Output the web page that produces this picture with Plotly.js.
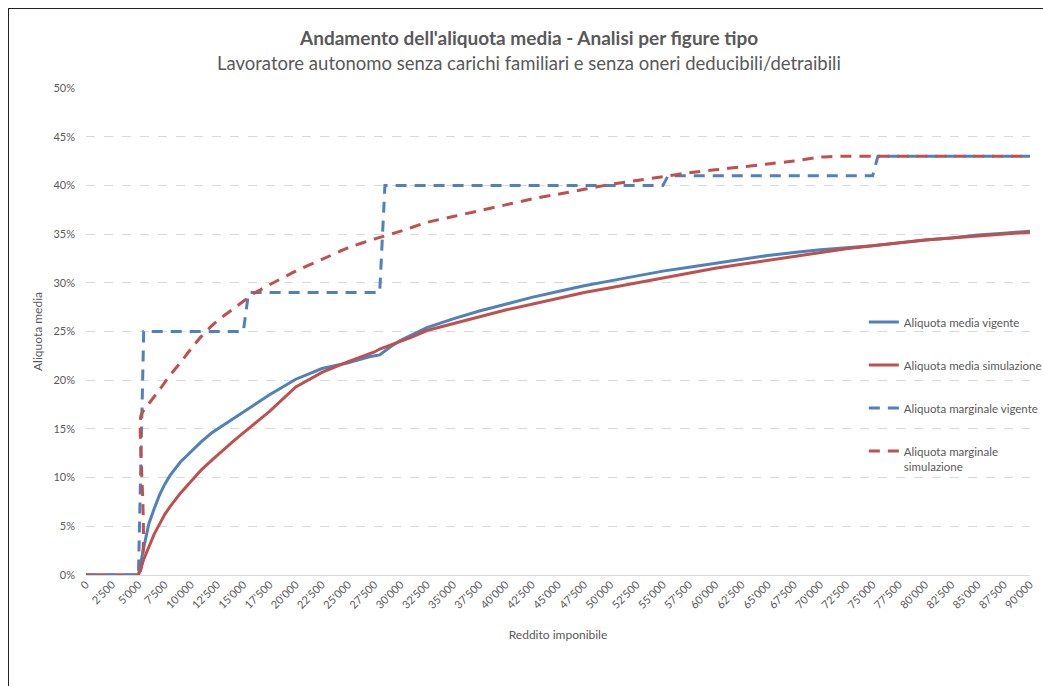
<!DOCTYPE html>
<html>
<head>
<meta charset="utf-8">
<script src="https://cdn.plot.ly/plotly-3.0.1.min.js"></script>
<style>
  html, body { margin: 0; padding: 0; background: #ffffff; overflow: hidden; }
  #chart { position: absolute; left: 0; top: 0; width: 1043px; height: 686px; }
  #frame { position: absolute; left: 8px; top: 8px; width: 1060px; height: 700px; border: 1.5px solid #222; pointer-events: none; }
</style>
</head>
<body>
<div id="chart"></div>
<div id="frame"></div>
<script>
// ---- Data ----
const titleText = "Andamento dell'aliquota media - Analisi per figure tipo";
const subtitleText = "Lavoratore autonomo senza carichi familiari e senza oneri deducibili/detraibili";
const xTitle = "Reddito imponibile";
const yTitle = "Aliquota media";

const seriesNames = [
  "Aliquota media vigente",
  "Aliquota media simulazione",
  "Aliquota marginale vigente",
  "Aliquota marginale<br>simulazione"
];

// Aliquota media vigente (blue solid)
const mediaVigenteX = [0, 5000, 5500, 6000, 6500, 7000, 7500, 8000, 9000, 10000, 11000, 12000, 13000, 14000, 15000, 16000, 17500, 20000, 22500, 25000, 26000, 27000, 28000, 29000, 30000, 31000, 32500, 35000, 37500, 40000, 42500, 45000, 47500, 50000, 52500, 55000, 57500, 60000, 62500, 65000, 67500, 70000, 72500, 75000, 77500, 80000, 82500, 85000, 87500, 90000];
const mediaVigenteY = [0, 0, 2.8, 5.3, 6.8, 8.2, 9.3, 10.2, 11.6, 12.7, 13.7, 14.6, 15.3, 16.0, 16.7, 17.4, 18.5, 20.1, 21.2, 21.8, 22.1, 22.4, 22.6, 23.4, 24.1, 24.6, 25.4, 26.3, 27.1, 27.8, 28.5, 29.1, 29.7, 30.2, 30.7, 31.2, 31.6, 32.0, 32.4, 32.8, 33.1, 33.4, 33.6, 33.8, 34.1, 34.4, 34.6, 34.9, 35.1, 35.3];

// Aliquota media simulazione (red solid)
const mediaSimX = [0, 5000, 5500, 6000, 6500, 7000, 7500, 8000, 9000, 10000, 11000, 12000, 13000, 14000, 15000, 16000, 17500, 20000, 22500, 25000, 27500, 28000, 29000, 30000, 31000, 32500, 35000, 37500, 40000, 42500, 45000, 47500, 50000, 52500, 55000, 57500, 60000, 62500, 65000, 67500, 70000, 72500, 75000, 77500, 80000, 82500, 85000, 87500, 90000];
const mediaSimY = [0, 0, 1.6, 3.0, 4.2, 5.2, 6.2, 7.0, 8.4, 9.6, 10.8, 11.8, 12.8, 13.7, 14.6, 15.5, 16.8, 19.3, 20.8, 21.9, 22.9, 23.2, 23.6, 24.0, 24.4, 25.1, 25.8, 26.5, 27.2, 27.8, 28.4, 29.0, 29.5, 30.0, 30.5, 31.0, 31.5, 31.9, 32.3, 32.7, 33.1, 33.5, 33.8, 34.1, 34.4, 34.6, 34.8, 35.0, 35.2];

// Aliquota marginale vigente (blue dashed, steps)
const margVigenteX = [0, 5000, 5500, 15000, 15500, 28000, 28500, 55000, 55500, 75000, 75500, 90000];
const margVigenteY = [0, 0, 25, 25, 29, 29, 40, 40, 41, 41, 43, 43];

// Aliquota marginale simulazione (red dashed)
const margSimX = [0, 5000, 5250, 6000, 7000, 8000, 9000, 10000, 11000, 12000, 13000, 14000, 15000, 16000, 17500, 20000, 22500, 25000, 27500, 30000, 32500, 35000, 37500, 40000, 42500, 45000, 47500, 50000, 52500, 55000, 57500, 60000, 62500, 65000, 67500, 70000, 72500, 75000, 80000, 85000, 90000];
const margSimY = [0, 0, 16.4, 17.6, 19.0, 20.5, 21.8, 23.2, 24.5, 25.6, 26.5, 27.3, 28.1, 28.9, 29.8, 31.2, 32.4, 33.6, 34.5, 35.3, 36.2, 36.8, 37.4, 38.0, 38.6, 39.1, 39.6, 40.1, 40.5, 40.9, 41.3, 41.6, 41.9, 42.2, 42.5, 42.9, 43, 43, 43, 43, 43];

const xTickVals = [0, 2500, 5000, 7500, 10000, 12500, 15000, 17500, 20000, 22500, 25000, 27500, 30000, 32500, 35000, 37500, 40000, 42500, 45000, 47500, 50000, 52500, 55000, 57500, 60000, 62500, 65000, 67500, 70000, 72500, 75000, 77500, 80000, 82500, 85000, 87500, 90000];

// ---- Styles ----
const BLUE = "#4F81BD";
const RED = "#C0504D";
const TXT = "#595959";
const FONT = "Lato, 'Open Sans', sans-serif";
const pct = a => a.map(v => v / 100);

const traces = [
  { x: mediaVigenteX, y: pct(mediaVigenteY), name: seriesNames[0], legendgroup: "a",
    mode: "lines", line: { color: BLUE, width: 3 } },
  { x: mediaSimX, y: pct(mediaSimY), name: seriesNames[1], legendgroup: "b",
    mode: "lines", line: { color: RED, width: 3 } },
  { x: margVigenteX, y: pct(margVigenteY), name: seriesNames[2], legendgroup: "c",
    mode: "lines", line: { color: BLUE, width: 3, dash: "11px,8px" } },
  { x: margSimX, y: pct(margSimY), name: seriesNames[3], legendgroup: "d",
    mode: "lines", line: { color: RED, width: 3, dash: "11px,8px", shape: "spline", smoothing: 0.6 } }
];

const layout = {
  width: 1043, height: 686,
  paper_bgcolor: "#ffffff", plot_bgcolor: "#ffffff",
  separators: ".'",
  font: { family: FONT, color: TXT, size: 11 },
  margin: { l: 86, r: 13, t: 88, b: 111, autoexpand: false },
  showlegend: true,
  legend: {
    x: 0.824, y: 0.548, xanchor: "left", yanchor: "top",
    bgcolor: "rgba(0,0,0,0)", traceorder: "grouped", tracegroupgap: 24,
    font: { family: FONT, size: 11.5, color: TXT }, valign: "top"
  },
  xaxis: {
    range: [0, 90000], tickmode: "array", tickvals: xTickVals, tickformat: ",d",
    tickangle: -45, tickfont: { size: 11, color: TXT, family: FONT },
    showgrid: false, zeroline: false, showline: false, ticks: "", automargin: false,
    title: { text: xTitle, font: { size: 12, color: TXT, family: FONT }, standoff: 20 }
  },
  yaxis: {
    range: [0, 0.5], dtick: 0.05, tickformat: ".0%", automargin: false,
    tickfont: { size: 11, color: TXT, family: FONT }, ticklabelstandoff: 10,
    showgrid: true, gridcolor: "#d9d9d9", griddash: "dash", gridwidth: 1,
    zeroline: true, zerolinecolor: "#d9d9d9", zerolinewidth: 1,
    showline: false, ticks: "", ticklen: 0,
    title: { text: yTitle, font: { size: 12, color: TXT, family: FONT }, standoff: 8 }
  },
  annotations: [
    { text: "<b>" + titleText + "</b>", xref: "paper", yref: "paper",
      x: 0.469, y: (575 - 38) / 487, xanchor: "center", yanchor: "middle", showarrow: false,
      font: { size: 19, color: TXT, family: FONT } },
    { text: subtitleText, xref: "paper", yref: "paper",
      x: 0.469, y: (575 - 63) / 487, xanchor: "center", yanchor: "middle", showarrow: false,
      font: { size: 18.5, color: TXT, family: FONT } }
  ]
};

Plotly.newPlot("chart", traces, layout, { displayModeBar: false, staticPlot: true });
</script>
</body>
</html>
